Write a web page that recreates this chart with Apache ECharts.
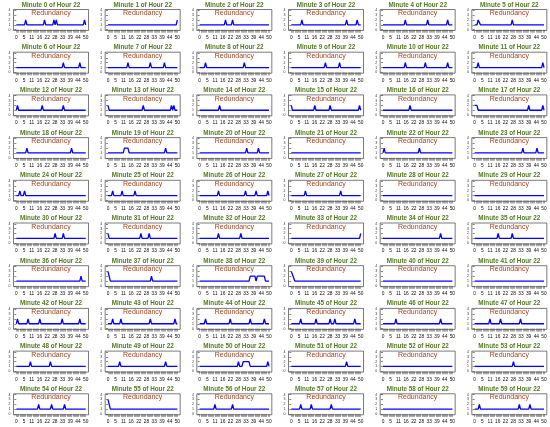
<!DOCTYPE html>
<html>
<head>
<meta charset="utf-8">
<script src="https://cdn.jsdelivr.net/npm/echarts@6/dist/echarts.min.js"></script>
<style>
  html, body { margin: 0; background: #fff; }
  #chart { width: 550px; height: 427px; }
</style>
</head>
<body>
<div id="chart"></div>
<script>
// 60 small panels, one per minute of hour 22
var hour = 22;
var yTicks = [0, 1, 2, 3, 4];

// tick label sets seen under the panels
var labelsA = [0, 5, 11, 16, 22, 28, 33, 39, 44, 50];
var labelsB = [1, 8, 15, 22, 29, 36, 43, 50, 57, 59];
var labelsC = [0, 6, 12, 18, 24, 30, 36, 42, 48, 54];
var xLabels = [];
for (var k = 0; k < 60; k++) xLabels.push(labelsA);

// polyline vertices [index, redundancy] per minute
var lines = [
  [[0,1],[7,1],[8,2],[9,1],[23,1],[24,2],[25,1],[31,1],[32,2],[33,1],[34,2],[35,1],[57,1],[58,2],[59,1]],
  [[0,1],[58,1],[59,2]],
  [[0,1],[21,1],[22,2],[23,1],[27,1],[28,2],[29,1],[59,1]],
  [[0,1],[8,1],[9,2],[10,1],[46,1],[47,2],[48,1],[55,1],[56,2],[57,1],[59,1]],
  [[0,1],[18,1],[19,2],[20,1],[37,1],[38,2],[39,1],[54,1],[55,2],[56,1],[59,1]],
  [[0,1],[2,1],[3,2],[4,2],[5,1],[31,1],[32,2],[33,1],[59,1]],
  [[0,1],[39,1],[40,2],[41,1],[53,1],[54,2],[55,1],[59,1]],
  [[0,1],[16,1],[17,2],[18,1],[35,1],[36,2],[37,1],[47,1],[48,2],[49,1],[59,1]],
  [[0,1],[4,1],[5,2],[6,1],[37,1],[38,2],[39,1],[59,1]],
  [[0,1],[28,1],[29,2],[30,1],[40,1],[41,2],[42,1],[59,1]],
  [[0,1],[18,1],[19,2],[20,1],[35,1],[36,2],[37,1],[54,1],[55,2],[56,1],[59,1]],
  [[0,1],[2,1],[3,2],[4,1],[57,1],[58,2],[59,1]],
  [[0,1],[1,2],[2,1],[21,1],[22,2],[23,1],[39,1],[40,2],[41,1],[59,1]],
  [[0,2],[1,1],[29,1],[30,2],[31,1],[53,1],[54,2],[55,1],[56,2],[57,1],[59,1]],
  [[0,1],[16,1],[17,2],[18,1],[59,1]],
  [[0,2],[1,1],[19,1],[20,2],[21,1],[32,1],[33,2],[34,1],[57,1],[58,2],[59,1]],
  [[0,1],[22,1],[23,2],[24,1],[59,1]],
  [[0,2],[2,2],[3,1],[45,1],[46,2],[47,1],[57,1],[58,2],[59,1]],
  [[0,1],[8,1],[9,2],[10,1],[46,1],[47,2],[48,1],[59,1]],
  [[0,1],[13,1],[14,2],[17,2],[18,1],[48,1],[49,2],[50,1],[59,1]],
  [[0,1],[39,1],[40,2],[41,1],[49,1],[50,2],[51,1],[59,1]],
  [[0,1],[59,1]],
  [[0,1],[1,2],[2,1],[30,1],[31,2],[32,1],[59,1]],
  [[0,1],[40,1],[41,2],[42,1],[52,1],[53,2],[54,1],[59,1]],
  [[0,1],[2,1],[3,2],[4,1],[6,1],[7,2],[8,1],[59,1]],
  [[0,1],[3,1],[4,2],[5,1],[11,1],[12,2],[13,1],[22,1],[23,2],[24,1],[59,1]],
  [[0,1],[15,1],[16,2],[17,1],[38,1],[39,2],[40,1],[47,1],[48,2],[49,1],[57,1],[58,2],[59,1]],
  [[0,1],[11,1],[12,2],[13,1],[41,1],[42,2],[43,1],[59,1]],
  [[0,1],[59,1]],
  [[0,1],[59,1]],
  [[0,1],[32,1],[33,2],[34,1],[39,1],[40,2],[41,1],[59,1]],
  [[0,2],[1,1],[27,1],[28,2],[29,1],[34,1],[35,2],[36,1],[59,1]],
  [[0,1],[15,1],[16,2],[17,1],[34,1],[35,2],[36,1],[59,1]],
  [[0,1],[58,1],[59,2]],
  [[0,1],[48,1],[49,2],[50,1],[59,1]],
  [[0,1],[19,1],[20,2],[21,1],[31,1],[32,2],[33,1],[59,1]],
  [[0,1],[54,1],[55,2],[56,1],[59,1]],
  [[0,3],[2,1],[36,1],[37,2],[38,1],[59,1]],
  [[0,1],[42,1],[43,2],[47,2],[48,1],[49,2],[55,2],[56,1],[59,1]],
  [[0,3],[3,1],[59,1]],
  [[0,1],[59,1]],
  [[0,1],[59,1]],
  [[0,1],[1,2],[2,1],[9,1],[10,2],[11,1],[19,1],[20,2],[21,1],[38,1],[39,2],[40,1],[53,1],[54,2],[55,1],[59,1]],
  [[0,1],[3,1],[4,2],[5,1],[10,1],[11,2],[12,1],[35,1],[36,2],[37,1],[56,1],[57,2],[58,1],[59,1]],
  [[0,1],[4,1],[5,2],[6,1],[25,1],[26,2],[27,1],[42,1],[43,2],[44,1],[54,1],[55,2],[56,1],[59,1]],
  [[0,1],[7,1],[8,2],[9,1],[20,1],[21,2],[22,1],[32,1],[33,2],[34,1],[36,1],[37,2],[38,1],[53,1],[54,2],[55,1],[59,1]],
  [[0,1],[10,1],[11,2],[12,1],[48,1],[49,2],[50,1],[59,1]],
  [[0,1],[12,1],[13,2],[14,1],[21,1],[22,2],[23,1],[38,1],[39,2],[40,1],[59,1]],
  [[0,1],[11,1],[12,2],[13,1],[28,1],[29,2],[30,1],[59,1]],
  [[0,1],[9,1],[10,2],[11,1],[48,1],[49,2],[50,1],[59,1]],
  [[0,1],[32,1],[33,2],[34,1],[36,1],[37,2],[42,2],[43,1],[57,1],[58,2],[59,1]],
  [[0,1],[46,1],[47,2],[48,1],[59,1]],
  [[0,1],[59,1]],
  [[0,1],[32,1],[33,2],[34,1],[59,1]],
  [[0,1],[18,1],[19,2],[20,1],[29,1],[30,2],[31,1],[40,1],[41,2],[42,1],[59,1]],
  [[0,3],[2,1],[59,1]],
  [[0,1],[12,1],[13,2],[14,1],[27,1],[28,2],[29,1],[59,1]],
  [[0,1],[7,1],[8,2],[9,1],[16,1],[17,2],[18,1],[33,1],[34,2],[35,1],[59,1]],
  [[0,1],[59,1]],
  [[0,1],[3,1],[4,2],[5,1],[37,1],[38,2],[39,1],[46,1],[47,2],[48,1],[59,1]]
];

var chart = echarts.init(document.getElementById('chart'));

var cellW = 550 / 6, cellH = 427 / 10;
var boxW = 75, boxH = 21;
var padX = 2.8, padY = 0.8;

var grids = [], xAxes = [], yAxes = [], series = [], graphics = [];

for (var i = 0; i < lines.length; i++) {
  var c = i % 6, r = Math.floor(i / 6);
  var bl = c * cellW + 13.5;
  var bt = r * cellH + 9.5;

  grids.push({
    left: bl + padX, top: bt + padY,
    width: boxW - 2 * padX, height: boxH - 2 * padY
  });

  // rug of second ticks
  xAxes.push({
    type: 'value', gridIndex: i, position: 'bottom', min: 0, max: 59, interval: 1,
    offset: padY,
    axisLine: { show: false },
    axisTick: { show: true, length: 3, lineStyle: { color: '#555', width: 0.5 } },
    axisLabel: { show: false },
    splitLine: { show: false }
  });
  // the ten labels
  xAxes.push({
    type: 'value', gridIndex: i, position: 'bottom', min: 0, max: 9, interval: 1,
    offset: padY,
    axisLine: { show: false },
    axisTick: { show: false },
    axisLabel: {
      show: true, fontSize: 4.8, margin: 4.6, color: '#111',
      fontFamily: 'Liberation Sans',
      formatter: (function (labs) {
        return function (v) { return labs[v] == null ? '' : String(labs[v]); };
      })(xLabels[i])
    },
    splitLine: { show: false }
  });

  yAxes.push({
    type: 'value', gridIndex: i, position: 'left', min: yTicks[0], max: yTicks[yTicks.length - 1], interval: 1,
    offset: padX,
    axisLine: { show: false },
    axisTick: { show: true, length: 2, lineStyle: { color: '#333', width: 0.6 } },
    axisLabel: { show: true, fontSize: 3.5, margin: 3, color: '#333', fontFamily: 'Liberation Sans' },
    splitLine: { show: false }
  });

  series.push({
    type: 'line',
    xAxisIndex: 2 * i, yAxisIndex: i,
    data: lines[i],
    showSymbol: false,
    silent: true,
    lineStyle: { color: '#0000ff', width: 1.3 }
  });

  graphics.push({
    type: 'rect', silent: true,
    shape: { x: bl, y: bt, width: boxW, height: boxH },
    style: { fill: 'none', stroke: '#222', lineWidth: 0.6 }
  });
  graphics.push({
    type: 'text', silent: true, z: 10,
    style: {
      text: 'Minute ' + i + ' of Hour ' + hour,
      x: bl + boxW / 2, y: r * cellH + 4.8,
      textAlign: 'center', textVerticalAlign: 'middle',
      font: 'bold 6.3px "Liberation Sans"', fill: '#527a22'
    }
  });
  graphics.push({
    type: 'text', silent: true, z: 10,
    style: {
      text: 'Redundancy',
      x: bl + boxW / 2, y: r * cellH + 13.2,
      textAlign: 'center', textVerticalAlign: 'middle',
      font: '7px "Liberation Sans"', fill: '#a3441f'
    }
  });
}

chart.setOption({
  animation: false,
  grid: grids,
  xAxis: xAxes,
  yAxis: yAxes,
  series: series,
  graphic: graphics
});
</script>
</body>
</html>
